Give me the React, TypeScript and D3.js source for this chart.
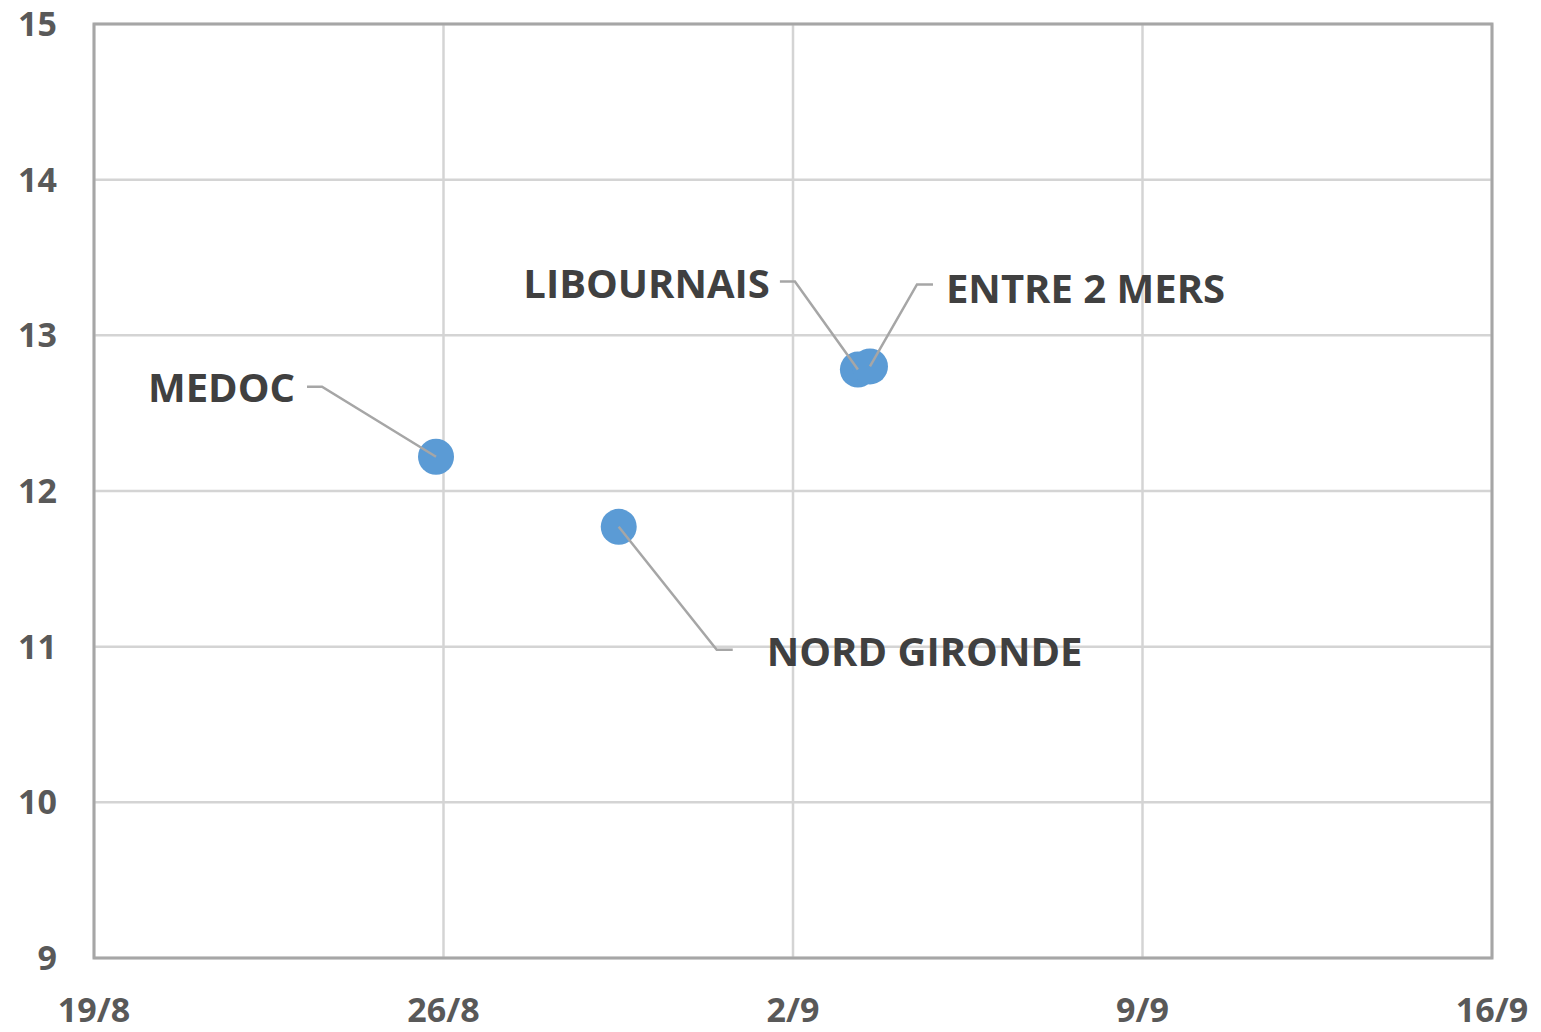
import React, { useRef, useEffect } from 'react';
import * as d3 from 'd3';

// Harvest date (with fractional day) vs. value per region
const regions = ['MEDOC', 'NORD GIRONDE', 'LIBOURNAIS', 'ENTRE 2 MERS'];
const harvestDates = ['2016-08-25T20:24', '2016-08-29T12:14', '2016-09-03T07:12', '2016-09-03T13:00'];
const values = [12.22, 11.77, 12.78, 12.8];

const xTickDates = ['2016-08-19', '2016-08-26', '2016-09-02', '2016-09-09', '2016-09-16'];
const yTicks = [9, 10, 11, 12, 13, 14, 15];

// label placement relative to the point (pixels): text anchor offset and leader start offset
const labelPlacement: Record<string, { dx: number; dy: number; sx: number; sy: number; side: 'left' | 'right' }> = {
  MEDOC: { dx: -141, dy: -69, sx: -129, sy: -70, side: 'left' },
  'NORD GIRONDE': { dx: 148, dy: 125, sx: 114, sy: 123, side: 'right' },
  LIBOURNAIS: { dx: -88, dy: -86, sx: -78, sy: -88, side: 'left' },
  'ENTRE 2 MERS': { dx: 76, dy: -77, sx: 63, sy: -82, side: 'right' },
};

const W = 1541;
const H = 1032;
const margin = { top: 24, right: 49, bottom: 74, left: 94 };

const App = () => {
  const svgRef = useRef<SVGSVGElement>(null);

  useEffect(() => {
    const svg = d3.select(svgRef.current);
    svg.selectAll('*').remove();

    const parse = d3.timeParse('%Y-%m-%dT%H:%M');
    const parseDay = d3.timeParse('%Y-%m-%d');
    const ticks = xTickDates.map(d => parseDay(d) as Date);
    const points = regions.map((name, i) => ({
      name,
      date: parse(harvestDates[i]) as Date,
      value: values[i],
    }));

    const innerW = W - margin.left - margin.right;
    const innerH = H - margin.top - margin.bottom;

    const x = d3.scaleTime()
      .domain([ticks[0], ticks[ticks.length - 1]])
      .range([margin.left, margin.left + innerW]);
    const y = d3.scaleLinear()
      .domain([9, 15])
      .range([margin.top + innerH, margin.top]);

    const font = '"Open Sans", "DejaVu Sans", sans-serif';

    // grid
    const grid = svg.append('g');
    grid.selectAll('.hgrid')
      .data(yTicks)
      .enter().append('line')
      .attr('x1', margin.left).attr('x2', margin.left + innerW)
      .attr('y1', d => y(d)).attr('y2', d => y(d))
      .attr('stroke', '#d4d4d4')
      .attr('stroke-width', 2.5);
    grid.selectAll('.vgrid')
      .data(ticks)
      .enter().append('line')
      .attr('y1', margin.top).attr('y2', margin.top + innerH)
      .attr('x1', d => x(d)).attr('x2', d => x(d))
      .attr('stroke', '#d4d4d4')
      .attr('stroke-width', 2.5);

    // plot border
    svg.append('rect')
      .attr('x', margin.left).attr('y', margin.top)
      .attr('width', innerW).attr('height', innerH)
      .attr('fill', 'none')
      .attr('stroke', '#a6a6a6')
      .attr('stroke-width', 3);

    // y tick labels
    svg.append('g').selectAll('text')
      .data(yTicks)
      .enter().append('text')
      .attr('x', 57)
      .attr('y', d => y(d) + 12)
      .attr('text-anchor', 'end')
      .attr('font-family', font)
      .attr('font-weight', 700)
      .attr('font-size', 34)
      .attr('fill', '#595959')
      .text(d => d);

    // x tick labels
    const fmt = d3.timeFormat('%-d/%-m');
    svg.append('g').selectAll('text')
      .data(ticks)
      .enter().append('text')
      .attr('x', d => x(d))
      .attr('y', 1022)
      .attr('text-anchor', 'middle')
      .attr('font-family', font)
      .attr('font-weight', 700)
      .attr('font-size', 34)
      .attr('fill', '#595959')
      .text(d => fmt(d));

    // points
    svg.append('g').selectAll('circle')
      .data(points)
      .enter().append('circle')
      .attr('cx', d => x(d.date))
      .attr('cy', d => y(d.value))
      .attr('r', 18)
      .attr('fill', '#5b9bd5');

    // leader lines, on top of the markers
    const leaders = svg.append('g');
    points.forEach(p => {
      const px = x(p.date);
      const py = y(p.value);
      const pl = labelPlacement[p.name];
      const sx = px + pl.sx;
      const sy = py + pl.sy;
      const cx = sx + (pl.side === 'left' ? 15 : -16);
      leaders.append('path')
        .attr('d', d3.line()([[sx, sy], [cx, sy], [px, py]]))
        .attr('fill', 'none')
        .attr('stroke', '#a6a6a6')
        .attr('stroke-width', 2.5);
    });

    // labels
    svg.append('g').selectAll('text')
      .data(points)
      .enter().append('text')
      .attr('x', d => x(d.date) + labelPlacement[d.name].dx)
      .attr('y', d => y(d.value) + labelPlacement[d.name].dy + 14)
      .attr('text-anchor', d => (labelPlacement[d.name].side === 'left' ? 'end' : 'start'))
      .attr('font-family', font)
      .attr('font-weight', 700)
      .attr('font-size', 40)
      .attr('fill', '#404040')
      .text(d => d.name);
  }, []);

  return (
    <svg
      ref={svgRef}
      width={W}
      height={H}
      style={{ position: 'absolute', left: 0, top: 0, background: '#fff' }}
    />
  );
};

export default App;
